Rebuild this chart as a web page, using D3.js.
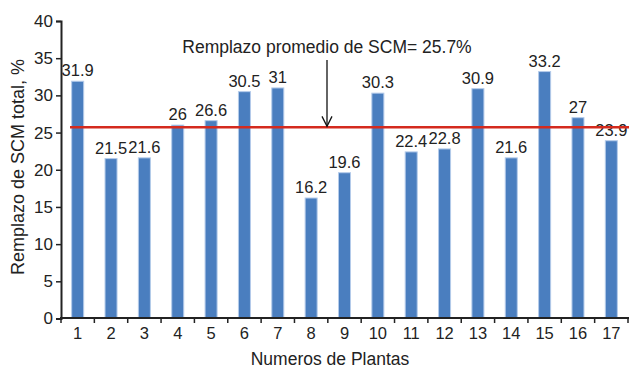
<!DOCTYPE html>
<html>
<head>
<meta charset="utf-8">
<script src="https://cdn.jsdelivr.net/npm/d3@7"></script>
<style>
  html, body { margin: 0; padding: 0; background: #fff; }
  svg { display: block; font-family: "Liberation Sans", Arial, sans-serif; }
</style>
</head>
<body>
<svg id="chart" width="629" height="368"></svg>
<script>
// Plant numbers and their total SCM replacement (%)
const plants = ["1","2","3","4","5","6","7","8","9","10","11","12","13","14","15","16","17"];
const replacement = [31.9, 21.5, 21.6, 26, 26.6, 30.5, 31, 16.2, 19.6, 30.3, 22.4, 22.8, 30.9, 21.6, 33.2, 27, 23.9];
const averageReplacement = 25.7;
const yTicks = [0, 5, 10, 15, 20, 25, 30, 35, 40];
const averageLabel = "Remplazo promedio de SCM= 25.7%";
const yTitle = "Remplazo de SCM total, %";
const xTitle = "Numeros de Plantas";

const svg = d3.select("#chart");
const margin = { left: 61, right: 1, top: 21, bottom: 50 };
const width = 629, height = 368;
const plotBottom = height - margin.bottom;
const ink = "#222";

const x = d3.scaleBand().domain(plants).range([margin.left, width - margin.right]).paddingInner(0.64).paddingOuter(0.32);
const y = d3.scaleLinear().domain([0, 40]).range([plotBottom + 0.5, margin.top]);

// bars
svg.append("g").selectAll("rect").data(plants).join("rect")
  .attr("x", d => x(d))
  .attr("width", x.bandwidth())
  .attr("y", (d, i) => y(replacement[i]))
  .attr("height", (d, i) => y(0) - y(replacement[i]))
  .attr("fill", "#4a7ebf")
  .attr("stroke", "#b4cbea")
  .attr("stroke-width", 1);

// value labels above each bar
svg.append("g").selectAll("text").data(plants).join("text")
  .attr("x", d => x(d) + x.bandwidth() / 2)
  .attr("y", (d, i) => y(replacement[i]) - 5)
  .attr("text-anchor", "middle")
  .attr("font-size", 16.5)
  .attr("fill", ink)
  .text((d, i) => replacement[i]);

// average line
svg.append("line")
  .attr("x1", 70).attr("x2", width)
  .attr("y1", y(averageReplacement)).attr("y2", y(averageReplacement))
  .attr("stroke", "#d42a1e").attr("stroke-width", 2.5);

// annotation + arrow pointing at the average
const arrowX = 327;
svg.append("text")
  .attr("x", 327).attr("y", 53)
  .attr("text-anchor", "middle")
  .attr("font-size", 17.5)
  .attr("fill", ink)
  .text(averageLabel);
svg.append("line")
  .attr("x1", arrowX).attr("x2", arrowX)
  .attr("y1", 60).attr("y2", y(averageReplacement) - 1)
  .attr("stroke", "#111").attr("stroke-width", 1.3);
svg.append("path")
  .attr("d", `M${arrowX - 5},${y(averageReplacement) - 11} L${arrowX},${y(averageReplacement) - 1} L${arrowX + 5},${y(averageReplacement) - 11}`)
  .attr("fill", "none").attr("stroke", "#111").attr("stroke-width", 1.3);

// y axis
const yAxis = svg.append("g")
  .attr("transform", `translate(${margin.left},0)`)
  .call(d3.axisLeft(y).tickValues(yTicks).tickSize(5).tickPadding(3));
yAxis.select(".domain").attr("stroke", ink).attr("stroke-width", 2);
yAxis.selectAll(".tick line").attr("stroke", ink).attr("stroke-width", 1.5);
yAxis.selectAll("text").attr("font-size", 17).attr("fill", ink).attr("font-family", "Liberation Sans, Arial, sans-serif");

// x axis: ticks at band boundaries
const xAxisG = svg.append("g").attr("transform", `translate(0,${plotBottom})`);
xAxisG.append("line")
  .attr("x1", margin.left - 1).attr("x2", width)
  .attr("y1", 0).attr("y2", 0)
  .attr("stroke", ink).attr("stroke-width", 2);
const bounds = d3.range(plants.length + 1).map(i => margin.left + i * (width - margin.right - margin.left) / plants.length);
xAxisG.selectAll(".xt").data(bounds).join("line")
  .attr("x1", d => d).attr("x2", d => d)
  .attr("y1", 0).attr("y2", 5)
  .attr("stroke", ink).attr("stroke-width", 1.5);
xAxisG.selectAll(".xl").data(plants).join("text")
  .attr("x", d => x(d) + x.bandwidth() / 2)
  .attr("y", 21)
  .attr("text-anchor", "middle")
  .attr("font-size", 16.5)
  .attr("fill", ink)
  .text(d => d);

// axis titles
svg.append("text")
  .attr("transform", `translate(24,${167}) rotate(-90)`)
  .attr("text-anchor", "middle")
  .attr("font-size", 18)
  .attr("fill", ink)
  .text(yTitle);
svg.append("text")
  .attr("x", 330).attr("y", 365)
  .attr("text-anchor", "middle")
  .attr("font-size", 17.5)
  .attr("fill", ink)
  .text(xTitle);
</script>
</body>
</html>
